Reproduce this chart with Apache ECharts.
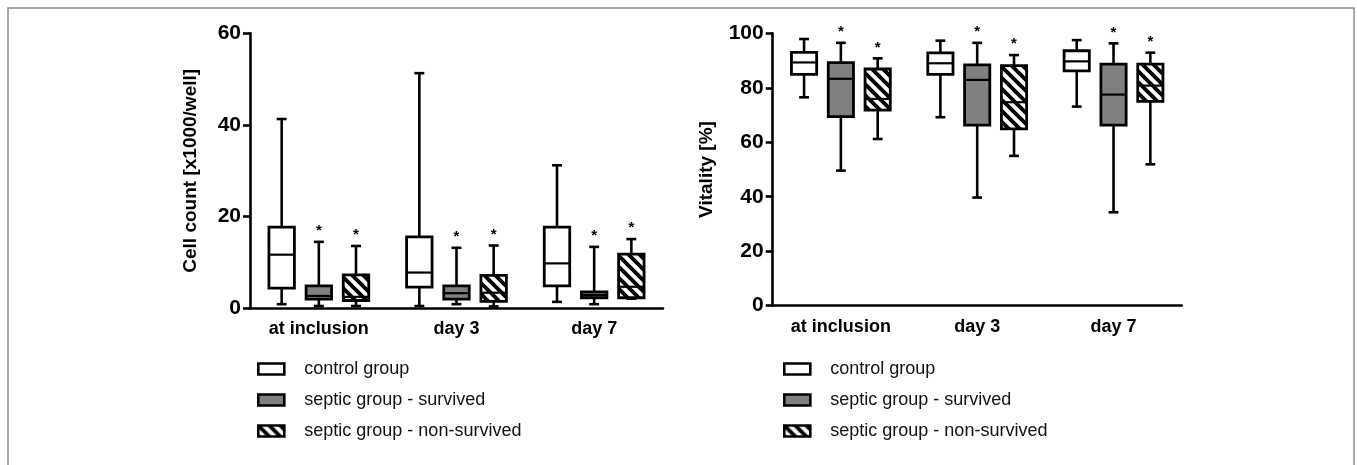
<!DOCTYPE html>
<html>
<head>
<meta charset="utf-8">
<script src="https://cdn.jsdelivr.net/npm/echarts@6/dist/echarts.min.js"></script>
<style>
html, body { margin: 0; padding: 0; background: #fff; }
#main { width: 1357px; height: 465px; }
</style>
</head>
<body>
<div id="main"></div>
<script>
var categories = ['at inclusion', 'day 3', 'day 7'];
var groupNames = ['control group', 'septic group - survived', 'septic group - non-survived'];

// [min, q1, median, q3, max]
var cellControl   = [[0.9, 4.4, 11.7, 17.7, 41.3], [0.5, 4.6, 7.8, 15.6, 51.3], [1.4, 4.9, 9.8, 17.7, 31.2]];
var cellSurvived  = [[0.5, 2.0, 2.7, 4.9, 14.5], [0.9, 2.0, 3.3, 4.9, 13.2], [0.9, 2.3, 2.9, 3.6, 13.4]];
var cellNonSurv   = [[0.5, 1.7, 2.5, 7.3, 13.6], [0.4, 1.5, 3.4, 7.2, 13.7], [2.1, 2.3, 4.7, 11.8, 15.1]];

var vitControl    = [[76.5, 84.9, 89.3, 93.0, 97.9], [69.2, 84.9, 89.0, 92.8, 97.3], [73.1, 86.2, 89.7, 93.6, 97.5]];
var vitSurvived   = [[49.6, 69.4, 83.3, 89.2, 96.5], [39.7, 66.3, 82.9, 88.4, 96.5], [34.3, 66.3, 77.5, 88.7, 96.3]];
var vitNonSurv    = [[61.2, 71.8, 75.9, 86.9, 90.8], [55.0, 64.9, 74.7, 88.1, 92.0], [51.9, 75.0, 80.8, 88.7, 92.9]];

var cellTicks = { min: 0, max: 60, interval: 20 };
var vitTicks = { min: 0, max: 100, interval: 20 };

// hatch pattern
var P = 11;
var hatchCanvas = document.createElement('canvas');
hatchCanvas.width = P; hatchCanvas.height = P;
var ctx = hatchCanvas.getContext('2d');
ctx.fillStyle = '#fff';
ctx.fillRect(0, 0, P, P);
ctx.strokeStyle = '#000';
ctx.lineWidth = 3.8;
ctx.beginPath();
ctx.moveTo(-2, -2); ctx.lineTo(P + 2, P + 2);
ctx.moveTo(P - 3, -3); ctx.lineTo(P + 3, 3);
ctx.moveTo(-3, P - 3); ctx.lineTo(3, P + 3);
ctx.stroke();
var hatch = { image: hatchCanvas, repeat: 'repeat' };

var fills = ['#ffffff', '#808080', hatch];
var offsets = [-0.27, 0, 0.27];

function toData(rows) {
    return rows.map(function (r, i) { return [i].concat(r); });
}

function makeSeries(idx, gridIdx, rows, star) {
    return {
        name: groupNames[idx],
        type: 'custom',
        xAxisIndex: gridIdx,
        yAxisIndex: gridIdx,
        data: toData(rows),
        encode: { x: 0, y: [1, 2, 3, 4, 5] },
        renderItem: function (params, api) {
            var c = api.value(0);
            var band = api.size([1, 0])[0];
            var cx = api.coord([c, 0])[0] + offsets[idx] * band;
            var hw = band * 0.185 / 2;
            var cw = band * 0.036;
            var y = [1, 2, 3, 4, 5].map(function (k) { return api.coord([c, api.value(k)])[1]; });
            var line = { stroke: '#000', lineWidth: 2.6 };
            var children = [
                { type: 'line', shape: { x1: cx, y1: y[4], x2: cx, y2: y[3] }, style: line },
                { type: 'line', shape: { x1: cx, y1: y[0], x2: cx, y2: y[1] }, style: line },
                { type: 'line', shape: { x1: cx - cw, y1: y[4], x2: cx + cw, y2: y[4] }, style: line },
                { type: 'line', shape: { x1: cx - cw, y1: y[0], x2: cx + cw, y2: y[0] }, style: line },
                { type: 'rect', shape: { x: cx - hw, y: y[3], width: hw * 2, height: y[1] - y[3] },
                  style: { fill: fills[idx], stroke: '#000', lineWidth: 2.8 } },
                { type: 'line', shape: { x1: cx - hw, y1: y[2], x2: cx + hw, y2: y[2] }, style: { stroke: '#000', lineWidth: 2.2 } }
            ];
            if (star) {
                children.push({ type: 'text', style: { text: '*', x: cx, y: y[4] - 11, fill: '#000',
                    font: 'bold 15px "Liberation Sans", Arial, sans-serif', align: 'center', verticalAlign: 'middle' } });
            }
            return { type: 'group', children: children };
        }
    };
}

var axisFont = '"Liberation Sans", Arial, sans-serif';

function xAxisFor(gridIdx) {
    return {
        type: 'category',
        gridIndex: gridIdx,
        data: categories,
        axisLine: { lineStyle: { color: '#000', width: 2.6 } },
        axisTick: { alignWithLabel: true, length: 7, lineStyle: { color: '#000', width: 2.6 } },
        axisLabel: { color: '#000', fontWeight: 'bold', fontSize: 18, fontFamily: axisFont, margin: 12 },
        splitLine: { show: false }
    };
}

function yAxisFor(gridIdx, ticks, name, gap) {
    return {
        type: 'value',
        gridIndex: gridIdx,
        min: ticks.min, max: ticks.max, interval: ticks.interval,
        name: name,
        nameLocation: 'middle',
        nameGap: gap,
        nameTextStyle: { color: '#000', fontWeight: 'bold', fontSize: 19, fontFamily: axisFont },
        axisLine: { show: true, lineStyle: { color: '#000', width: 2.6 } },
        axisTick: { show: true, length: 7, lineStyle: { color: '#000', width: 2.6 } },
        axisLabel: { color: '#000', fontWeight: 'bold', fontSize: 21, fontFamily: axisFont, margin: 9 },
        splitLine: { show: false }
    };
}

function legendFor(left) {
    return {
        orient: 'vertical',
        left: left,
        top: 360,
        padding: 0,
        icon: 'rect',
        itemWidth: 26,
        itemHeight: 11,
        itemGap: 13,
        selectedMode: false,
        textStyle: { color: '#111', fontSize: 18, fontFamily: axisFont, padding: [0, 0, 0, 15] },
        data: groupNames.map(function (n, i) {
            return { name: n, itemStyle: { color: fills[i], borderColor: '#000', borderWidth: 2.6 } };
        })
    };
}

var myChart = echarts.init(document.getElementById('main'));
var option = {
    animation: false,
    graphic: [{
        type: 'rect',
        shape: { x: 8, y: 8, width: 1346, height: 520 },
        style: { fill: 'none', stroke: '#8a8a8a', lineWidth: 1.5 },
        silent: true
    }],
    grid: [
        { left: 250, top: 33.3, width: 413, height: 275 },
        { left: 772.7, top: 33.3, width: 409, height: 272.4 }
    ],
    xAxis: [xAxisFor(0), xAxisFor(1)],
    yAxis: [yAxisFor(0, cellTicks, 'Cell count [x1000/well]', 50), yAxisFor(1, vitTicks, 'Vitality [%]', 56)],
    legend: [legendFor(257), legendFor(783)],
    series: [
        makeSeries(0, 0, cellControl, false),
        makeSeries(1, 0, cellSurvived, true),
        makeSeries(2, 0, cellNonSurv, true),
        makeSeries(0, 1, vitControl, false),
        makeSeries(1, 1, vitSurvived, true),
        makeSeries(2, 1, vitNonSurv, true)
    ]
};
myChart.setOption(option);
</script>
</body>
</html>
